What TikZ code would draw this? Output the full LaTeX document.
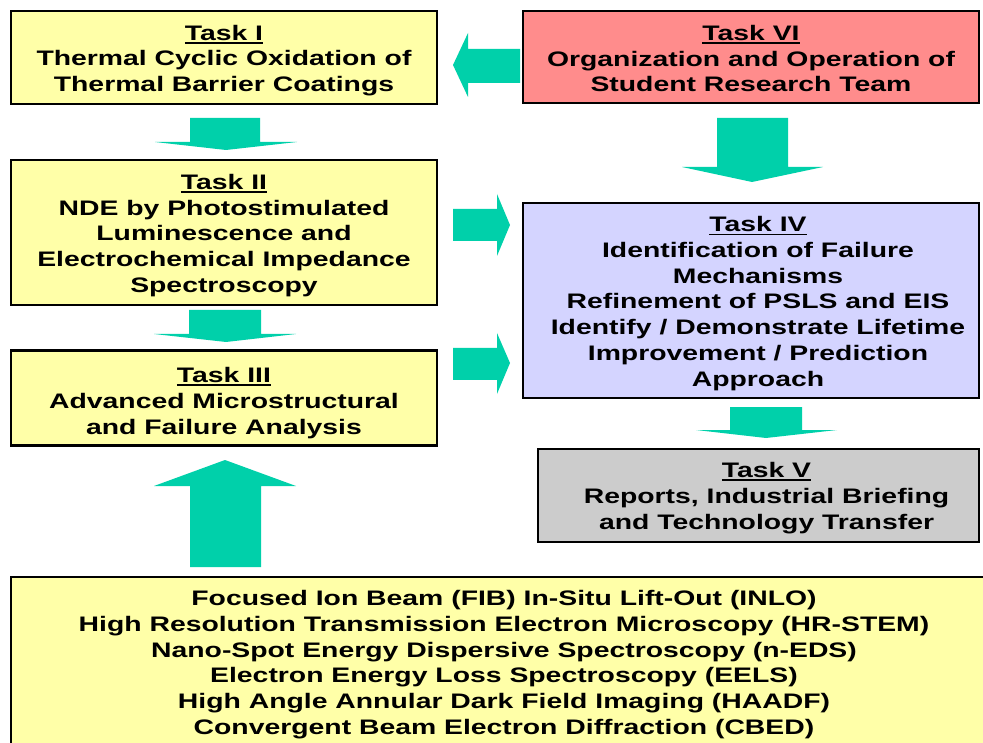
\documentclass[tikz,border=0pt]{standalone}
\usepackage{fontspec}
\setmainfont{Liberation Sans}[FakeStretch=1.35]
\definecolor{taskyellow}{RGB}{255,255,168}
\definecolor{tasksalmon}{RGB}{255,140,140}
\definecolor{tasklavender}{RGB}{212,212,255}
\definecolor{taskgray}{RGB}{204,204,204}
\definecolor{arrowteal}{RGB}{0,208,170}
\newlength\hdrwd
\newcommand\taskhead[1]{\settowidth\hdrwd{#1}\rlap{\rule[-3.5pt]{\hdrwd}{1.8pt}}#1}
\tikzset{
  x=1pt, y=-1pt,
  taskbox/.style={draw=black, line width=2.5pt, inner sep=0pt},
  tasktext/.style={align=center, inner sep=0pt,
    font=\bfseries\fontsize{21}{25.7}\selectfont},
  blockarrow/.style={fill=arrowteal, draw=none},
}
\begin{document}
\begin{tikzpicture}
\useasboundingbox (0,0) rectangle (983,743);
\clip (0,0) rectangle (983,743);

% task boxes
\node[taskbox, fill=taskyellow, minimum width=426pt, minimum height=93pt] (t1) at (224,57.5) {};
\node[tasktext] (t1text) at ([shift={(0,3)}]t1.center)
  {\taskhead{Task I}\\Thermal Cyclic Oxidation of\\Thermal Barrier Coatings};

\node[taskbox, fill=tasksalmon, minimum width=456pt, minimum height=92pt] (t6) at (751,57) {};
\node[tasktext] (t6text) at ([shift={(0,1.5)}]t6.center)
  {\taskhead{Task VI}\\Organization and Operation of\\Student Research Team};

\node[taskbox, fill=taskyellow, minimum width=426pt, minimum height=145pt] (t2) at (224,232.5) {};
\node[tasktext] (t2text) at ([shift={(0,3)}]t2.center)
  {\taskhead{Task II}\\NDE by Photostimulated\\Luminescence and\\Electrochemical Impedance\\Spectroscopy};

\node[taskbox, fill=taskyellow, minimum width=426pt, minimum height=95pt] (t3) at (224,398) {};
\node[tasktext] (t3text) at ([shift={(0,5)}]t3.center)
  {\taskhead{Task III}\\Advanced Microstructural\\and Failure Analysis};

\node[taskbox, fill=tasklavender, minimum width=456pt, minimum height=195pt] (t4) at (751,300.5) {};
\node[tasktext] (t4text) at ([shift={(7,3)}]t4.center)
  {\taskhead{Task IV}\\Identification of Failure\\Mechanisms\\Refinement of PSLS and EIS\\Identify / Demonstrate Lifetime\\Improvement / Prediction\\Approach};

\node[taskbox, fill=taskgray, minimum width=441pt, minimum height=93pt] (t5) at (758.5,495.5) {};
\node[tasktext] (t5text) at ([shift={(8,2.5)}]t5.center)
  {\taskhead{Task V}\\Reports, Industrial Briefing\\and Technology Transfer};

% analysis techniques box, running past the page edge
\filldraw[fill=taskyellow, draw=black, line width=2.5pt] (11,577) rectangle (1000,800);
\node[tasktext] (tools) at (504,664.5)
  {Focused Ion Beam (FIB) In-Situ Lift-Out (INLO)\\
   High Resolution Transmission Electron Microscopy (HR-STEM)\\
   Nano-Spot Energy Dispersive Spectroscopy (n-EDS)\\
   Electron Energy Loss Spectroscopy (EELS)\\
   High Angle Annular Dark Field Imaging (HAADF)\\
   Convergent Beam Electron Diffraction (CBED)};

% block arrows
% Task VI -> Task I
\fill[blockarrow] (520,49) -- (468,49) -- (468,33) -- (453,65) -- (468,97) -- (468,83) -- (520,83) -- cycle;
% Task I -> Task II
\fill[blockarrow] (190,118) -- (260,118) -- (260,142) -- (297,142) -- (226,150) -- (155,142) -- (190,142) -- cycle;
% Task II -> Task III
\fill[blockarrow] (189,310) -- (261,310) -- (261,334) -- (296,334) -- (226,342) -- (154,334) -- (189,334) -- cycle;
% techniques -> Task III
\fill[blockarrow] (190,567) -- (261,567) -- (261,486) -- (296,486) -- (225,460) -- (154,486) -- (190,486) -- cycle;
% Task VI -> Task IV
\fill[blockarrow] (717,118) -- (788,118) -- (788,167) -- (823,167) -- (752,182) -- (682,167) -- (717,167) -- cycle;
% Task II -> Task IV
\fill[blockarrow] (453,209) -- (497,209) -- (497,194) -- (510,225) -- (497,256) -- (497,241) -- (453,241) -- cycle;
% Task III -> Task IV
\fill[blockarrow] (453,348) -- (497,348) -- (497,333) -- (510,363) -- (497,394) -- (497,380) -- (453,380) -- cycle;
% Task IV -> Task V
\fill[blockarrow] (730,407) -- (802,407) -- (802,430) -- (837,430) -- (766,438) -- (696,430) -- (730,430) -- cycle;
\end{tikzpicture}
\end{document}
